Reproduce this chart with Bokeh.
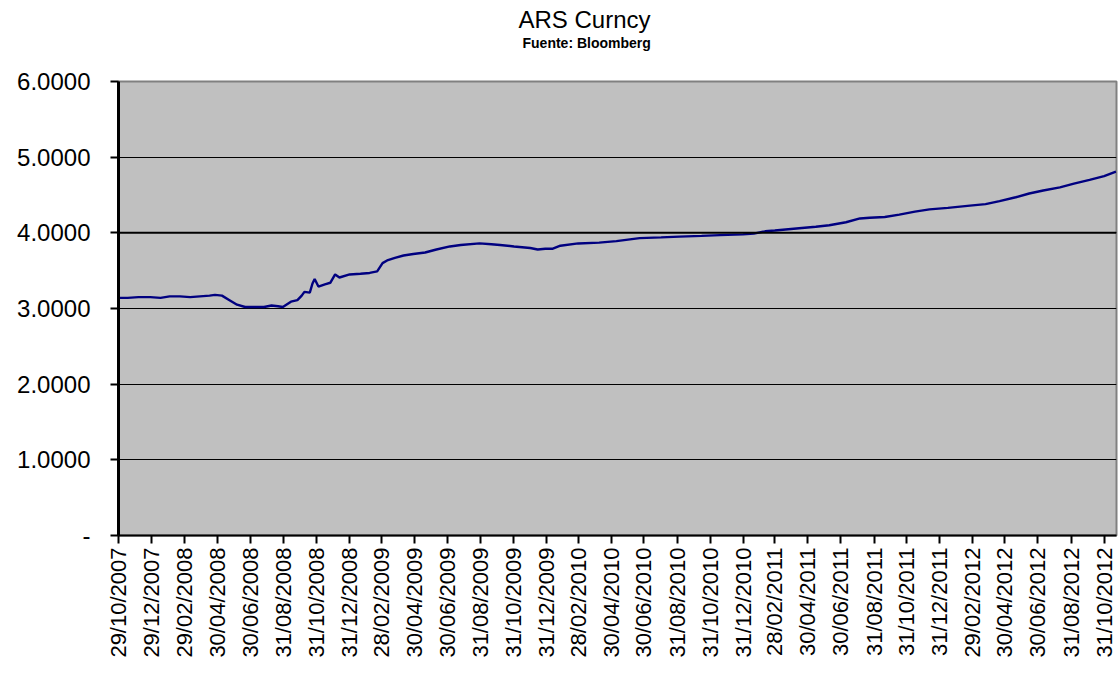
import pandas as pd
from bokeh.plotting import figure
from bokeh.models import Range1d, FixedTicker, Title, Span
from bokeh.embed import file_html
from bokeh.resources import INLINE
from math import pi

# ---- data ----
dates = [
    "2007-10-29", "2007-11-15", "2007-12-05", "2007-12-27", "2008-01-15", "2008-02-01",
    "2008-02-20", "2008-03-10", "2008-03-28", "2008-04-15", "2008-04-25", "2008-05-08",
    "2008-05-22", "2008-06-05", "2008-06-20", "2008-07-10", "2008-07-25", "2008-08-08",
    "2008-08-20", "2008-08-29", "2008-09-13", "2008-09-25", "2008-10-03", "2008-10-08",
    "2008-10-18", "2008-10-23", "2008-10-27", "2008-11-03", "2008-11-15", "2008-11-25",
    "2008-12-04", "2008-12-12", "2008-12-31", "2009-01-20", "2009-02-06", "2009-02-20",
    "2009-03-02", "2009-03-12", "2009-03-25", "2009-04-10", "2009-04-28", "2009-05-20",
    "2009-06-10", "2009-07-05", "2009-07-25", "2009-08-29", "2009-09-20", "2009-10-06",
    "2009-11-01", "2009-12-01", "2009-12-15", "2009-12-29", "2010-01-12", "2010-01-26",
    "2010-02-28", "2010-04-08", "2010-05-10", "2010-06-22", "2010-08-01", "2010-09-04",
    "2010-10-15", "2010-11-18", "2010-12-31", "2011-01-20", "2011-02-10", "2011-02-28",
    "2011-04-14", "2011-05-15", "2011-06-09", "2011-07-10", "2011-08-05", "2011-08-23",
    "2011-09-20", "2011-10-17", "2011-11-15", "2011-12-12", "2012-01-15", "2012-02-25",
    "2012-03-25", "2012-04-20", "2012-05-20", "2012-06-14", "2012-07-10", "2012-08-10",
    "2012-09-05", "2012-10-04", "2012-10-31", "2012-11-22",
]
rates = [
    3.14, 3.14, 3.15, 3.15, 3.14, 3.16,
    3.16, 3.15, 3.16, 3.17, 3.18, 3.17,
    3.11, 3.05, 3.02, 3.02, 3.02, 3.04,
    3.03, 3.02, 3.09, 3.11, 3.17, 3.22,
    3.21, 3.33, 3.39, 3.29, 3.32, 3.34,
    3.45, 3.41, 3.45, 3.46, 3.47, 3.49,
    3.60, 3.64, 3.67, 3.70, 3.72, 3.74,
    3.78, 3.82, 3.84, 3.86, 3.85, 3.84,
    3.82, 3.80, 3.78, 3.79, 3.79, 3.83,
    3.86, 3.87, 3.89, 3.93, 3.94, 3.95,
    3.96, 3.97, 3.98, 3.99, 4.02, 4.03,
    4.06, 4.08, 4.10, 4.14, 4.19, 4.20,
    4.21, 4.24, 4.28, 4.31, 4.33, 4.36,
    4.38, 4.42, 4.47, 4.52, 4.56, 4.60,
    4.65, 4.70, 4.75, 4.81,
]
tick_labels = [
    "29/10/2007", "29/12/2007", "29/02/2008", "30/04/2008", "30/06/2008", "31/08/2008",
    "31/10/2008", "31/12/2008", "28/02/2009", "30/04/2009", "30/06/2009", "31/08/2009",
    "31/10/2009", "31/12/2009", "28/02/2010", "30/04/2010", "30/06/2010", "31/08/2010",
    "31/10/2010", "31/12/2010", "28/02/2011", "30/04/2011", "30/06/2011", "31/08/2011",
    "31/10/2011", "31/12/2011", "29/02/2012", "30/04/2012", "30/06/2012", "31/08/2012",
    "31/10/2012",
]
y_ticks = [0, 1, 2, 3, 4, 5, 6]
y_labels = ["-", "1.0000", "2.0000", "3.0000", "4.0000", "5.0000", "6.0000"]

origin = pd.Timestamp("2007-10-29")
x_days = [(pd.Timestamp(d) - origin).days for d in dates]
tick_days = [(pd.to_datetime(t, format="%d/%m/%Y") - origin).days for t in tick_labels]

FONT = "Liberation Sans"

p = figure(frame_width=998, frame_height=454, output_backend="svg", toolbar_location=None,
           title=None, x_range=Range1d(0, (pd.Timestamp("2012-11-23") - origin).days),
           y_range=Range1d(0, 6))
p.min_border_left = 118
p.min_border_right = 2
p.min_border_bottom = 10
p.background_fill_color = "#C0C0C0"
p.border_fill_color = "white"
p.outline_line_color = "#808080"
p.outline_line_width = 2

# titles (spacer closest to frame)
has_standoff = "standoff" in Title.properties()
spacer = Title(text=" ", text_font_size="20px", text_font=FONT)
sub = Title(text="Fuente: Bloomberg", text_font_size="14px", text_font=FONT,
            text_font_style="bold", text_color="black", align="left", offset=404)
main = Title(text="ARS Curncy", text_font_size="24px", text_font=FONT,
             text_font_style="normal", text_color="black", align="left", offset=400)
if has_standoff:
    spacer.standoff = 7
    sub.standoff = 0
    main.standoff = 0
p.add_layout(spacer, "above")
p.add_layout(sub, "above")
p.add_layout(main, "above")
p.min_border_top = 81

p.line(x_days, rates, line_color="#000080", line_width=2.4)

# y axis
p.yaxis.ticker = FixedTicker(ticks=y_ticks)
p.yaxis.major_label_overrides = {t: l for t, l in zip(y_ticks, y_labels)}
p.yaxis.major_label_text_font = FONT
p.yaxis.major_label_text_font_size = "24px"
p.yaxis.major_label_text_color = "black"
p.yaxis.axis_line_color = "black"
p.yaxis.axis_line_width = 3
p.yaxis.major_tick_line_color = "black"
p.yaxis.major_tick_line_width = 2
p.yaxis.major_tick_in = 0
p.yaxis.major_tick_out = 8
p.yaxis.minor_tick_line_color = None
p.yaxis.major_label_standoff = 20

# x axis
p.xaxis.ticker = FixedTicker(ticks=tick_days)
p.xaxis.major_label_overrides = {t: l for t, l in zip(tick_days, tick_labels)}
p.xaxis.major_label_orientation = pi / 2
p.xaxis.major_label_text_font = FONT
p.xaxis.major_label_text_font_size = "22px"
p.xaxis.major_label_text_color = "black"
p.xaxis.axis_line_color = "black"
p.xaxis.axis_line_width = 2
p.xaxis.major_tick_line_color = "black"
p.xaxis.major_tick_line_width = 2
p.xaxis.major_tick_in = 0
p.xaxis.major_tick_out = 8
p.xaxis.minor_tick_line_color = None
p.xaxis.major_label_standoff = 4

# grid
p.xgrid.grid_line_color = None
p.ygrid.ticker = FixedTicker(ticks=y_ticks)
p.ygrid.grid_line_color = "black"
p.ygrid.grid_line_width = 1
p.add_layout(Span(location=4, dimension="width", line_color="black", line_width=2))

open("out.html", "w").write(file_html(p, INLINE))
